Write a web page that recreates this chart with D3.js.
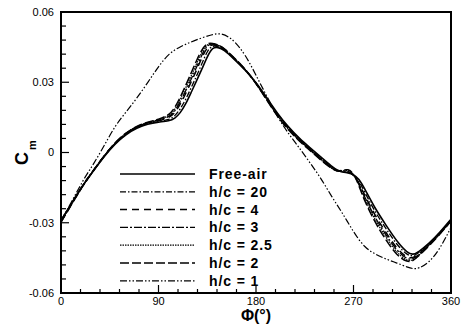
<!DOCTYPE html>
<html><head><meta charset="utf-8">
<script src="https://cdn.jsdelivr.net/npm/d3@7"></script>
<style>html,body{margin:0;padding:0;background:#fff;}svg{display:block;}</style>
</head><body>
<svg id="chart" width="463" height="326"></svg>
<script>
// ---- data ----
const phi = [0,10,20,30,40,50,60,70,80,90,100,105,110,115,120,125,130,135,140,145,150,160,170,180,190,200,210,220,230,240,250,255,260,265,270,275,280,290,300,310,320,325,330,340,350,360];
const cmFreeAir = [-0.0290,-0.0215,-0.0140,-0.0078,-0.0015,0.0038,0.0078,0.0105,0.0122,0.0130,0.0135,0.0145,0.0168,0.0205,0.0255,0.0305,0.0355,0.0410,0.0450,0.0449,0.0441,0.0398,0.0352,0.0300,0.0233,0.0165,0.0108,0.0060,0.0020,-0.0020,-0.0060,-0.0076,-0.0084,-0.0087,-0.0094,-0.0112,-0.0152,-0.0240,-0.0310,-0.0380,-0.0430,-0.0437,-0.0425,-0.0388,-0.0340,-0.0285];
const cmH20 = [-0.0292,-0.0215,-0.0138,-0.0075,-0.0012,0.0040,0.0080,0.0107,0.0124,0.0132,0.0140,0.0155,0.0185,0.0225,0.0275,0.0325,0.0378,0.0435,0.0458,0.0453,0.0443,0.0400,0.0354,0.0300,0.0231,0.0162,0.0105,0.0057,0.0017,-0.0024,-0.0063,-0.0078,-0.0083,-0.0084,-0.0094,-0.0120,-0.0166,-0.0255,-0.0325,-0.0395,-0.0440,-0.0443,-0.0430,-0.0390,-0.0342,-0.0288];
const cmH4 = [-0.0295,-0.0218,-0.0140,-0.0076,-0.0012,0.0042,0.0082,0.0110,0.0127,0.0135,0.0148,0.0168,0.0205,0.0250,0.0300,0.0350,0.0405,0.0452,0.0462,0.0456,0.0445,0.0401,0.0355,0.0298,0.0228,0.0158,0.0102,0.0054,0.0014,-0.0028,-0.0066,-0.0080,-0.0082,-0.0080,-0.0095,-0.0128,-0.0180,-0.0270,-0.0342,-0.0412,-0.0452,-0.0450,-0.0435,-0.0392,-0.0345,-0.0290];
const cmH3 = [-0.0296,-0.0218,-0.0141,-0.0077,-0.0013,0.0042,0.0083,0.0111,0.0128,0.0137,0.0152,0.0175,0.0215,0.0262,0.0312,0.0362,0.0418,0.0460,0.0465,0.0458,0.0446,0.0402,0.0356,0.0297,0.0226,0.0156,0.0100,0.0052,0.0012,-0.0030,-0.0068,-0.0080,-0.0080,-0.0077,-0.0093,-0.0132,-0.0188,-0.0280,-0.0352,-0.0420,-0.0458,-0.0455,-0.0438,-0.0394,-0.0346,-0.0291];
const cmH25 = [-0.0297,-0.0219,-0.0142,-0.0077,-0.0013,0.0043,0.0084,0.0112,0.0129,0.0139,0.0156,0.0182,0.0225,0.0275,0.0325,0.0378,0.0430,0.0464,0.0466,0.0459,0.0447,0.0403,0.0357,0.0296,0.0225,0.0154,0.0098,0.0050,0.0010,-0.0032,-0.0069,-0.0080,-0.0078,-0.0074,-0.0090,-0.0135,-0.0195,-0.0290,-0.0362,-0.0430,-0.0465,-0.0460,-0.0441,-0.0396,-0.0347,-0.0292];
const cmH2 = [-0.0298,-0.0220,-0.0143,-0.0078,-0.0014,0.0044,0.0085,0.0113,0.0130,0.0141,0.0160,0.0190,0.0235,0.0285,0.0338,0.0392,0.0440,0.0468,0.0467,0.0459,0.0448,0.0404,0.0358,0.0295,0.0224,0.0152,0.0096,0.0048,0.0008,-0.0034,-0.0070,-0.0080,-0.0076,-0.0070,-0.0088,-0.0140,-0.0205,-0.0300,-0.0375,-0.0440,-0.0470,-0.0462,-0.0443,-0.0398,-0.0348,-0.0293];
const phiH1 = [0,10,20,30,40,50,60,70,80,90,100,110,120,130,140,147,155,160,170,180,190,200,210,220,230,240,250,260,270,280,290,300,310,320,325,330,340,350,360];
const cmH1 = [-0.0290,-0.0210,-0.0120,-0.0050,0.0030,0.0115,0.0172,0.0232,0.0298,0.0368,0.0425,0.0452,0.0472,0.0490,0.0504,0.0510,0.0494,0.0475,0.0420,0.0330,0.0240,0.0150,0.0080,0.0020,-0.0045,-0.0110,-0.0190,-0.0260,-0.0340,-0.0405,-0.0435,-0.0455,-0.0472,-0.0490,-0.0497,-0.0496,-0.0470,-0.0410,-0.0320];
const legendLabels = ["Free-air","h/c = 20","h/c = 4","h/c = 3","h/c = 2.5","h/c = 2","h/c = 1"];
const xTicks = [0,90,180,270,360];
const yTicks = [-0.06,-0.03,0,0.03,0.06];
const yTickLabels = ["-0.06","-0.03","0","0.03","0.06"];

// ---- layout ----
const svg = d3.select("#chart");
const x = d3.scaleLinear().domain([0,360]).range([61,451]);
const y = d3.scaleLinear().domain([-0.06,0.06]).range([293,12]);

const series = [
  {label: legendLabels[0], xs: phi, ys: cmFreeAir, dash: null, w: 1.6},
  {label: legendLabels[1], xs: phi, ys: cmH20, dash: "6,2,1.5,2", w: 1.3},
  {label: legendLabels[2], xs: phi, ys: cmH4, dash: "7,5", w: 1.5},
  {label: legendLabels[3], xs: phi, ys: cmH3, dash: "8,2,2,2", w: 1.3},
  {label: legendLabels[4], xs: phi, ys: cmH25, dash: "1.5,1", w: 1.2},
  {label: legendLabels[5], xs: phi, ys: cmH2, dash: "9,3", w: 1.5},
  {label: legendLabels[6], xs: phiH1, ys: cmH1, dash: "7,2,1.5,2,1.5,2", w: 1.2}
];

const line = d3.line().x(d => x(d[0])).y(d => y(d[1])).curve(d3.curveBasis);

const gLines = svg.append("g");
series.forEach(s => {
  gLines.append("path")
    .attr("d", line(s.xs.map((v,i) => [v, s.ys[i]])))
    .attr("fill","none").attr("stroke","#000")
    .attr("stroke-width", s.w)
    .attr("stroke-dasharray", s.dash);
});

// axes
const font = "Liberation Sans, Arial, sans-serif";
const gx = svg.append("g").attr("transform","translate(0,293)");
d3.range(0,361,18).forEach(v => {
  const major = v % 90 === 0;
  gx.append("line").attr("x1",x(v)).attr("x2",x(v)).attr("y1",0).attr("y2", major ? -8 : -4)
    .attr("stroke","#000").attr("stroke-width",1.2);
});
xTicks.forEach(v => {
  gx.append("text").attr("x", x(v)).attr("y", 12).attr("text-anchor","middle")
    .attr("font-family",font).attr("font-size",11).text(v);
});
const gy = svg.append("g").attr("transform","translate(61,0)");
d3.range(-0.06,0.0601,0.006).forEach(v => {
  const major = Math.abs(Math.round(v/0.03)*0.03 - v) < 1e-6;
  gy.append("line").attr("x1",0).attr("x2", major ? 8 : 5).attr("y1",y(v)).attr("y2",y(v))
    .attr("stroke","#000").attr("stroke-width",1.2);
});
yTicks.forEach((v,i) => {
  gy.append("text").attr("x",-7).attr("y", y(v)).attr("dy","0.35em").attr("text-anchor","end")
    .attr("font-family",font).attr("font-size",11).text(yTickLabels[i]);
});

// frame
svg.append("rect").attr("x",61).attr("y",12).attr("width",390).attr("height",281)
  .attr("fill","none").attr("stroke","#000").attr("stroke-width",2);

// axis titles
svg.append("text").attr("transform","translate(28,165) rotate(-90)")
  .attr("font-family",font).attr("font-weight","bold").attr("font-size",18).text("C");
svg.append("text").attr("transform","translate(36,150) rotate(-90)")
  .attr("font-family",font).attr("font-weight","bold").attr("font-size",11).text("m");
svg.append("text").attr("x",256).attr("y",321).attr("text-anchor","middle")
  .attr("font-family",font).attr("font-weight","bold").attr("font-size",16).text("Φ(°)");

// legend
const lg = svg.append("g");
series.forEach((s,i) => {
  const yy = 174 + i*17.8;
  lg.append("line").attr("x1",120).attr("x2",195).attr("y1",yy).attr("y2",yy)
    .attr("stroke","#000").attr("stroke-width",s.w).attr("stroke-dasharray",s.dash);
  lg.append("text").attr("x",209).attr("y",yy).attr("dy","0.36em")
    .attr("font-family",font).attr("font-weight","bold")
    .attr("font-size",14).attr("letter-spacing","0.9px").text(s.label);
});
</script>
</body></html>
